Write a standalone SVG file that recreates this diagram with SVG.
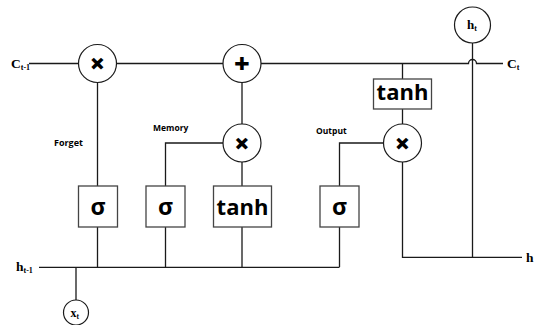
<svg xmlns="http://www.w3.org/2000/svg" width="534" height="325" viewBox="0 0 534 325">
  <style>
    .wire { fill: none; stroke: #1a1a1a; stroke-width: 1.3; }
    .op { fill: #fff; stroke: #1a1a1a; stroke-width: 1.2; }
    .gate { fill: #fff; stroke: #444; stroke-width: 1.3; }
    .sym { font-family: "Open Sans", "DejaVu Sans", sans-serif; font-weight: bold; fill: #000; text-anchor: middle; }
    .opsym { font-family: "Open Sans", "DejaVu Sans", sans-serif; font-weight: 800; fill: #000; text-anchor: middle; font-size: 27px; }
    .lbl { font-family: "Open Sans", "DejaVu Sans", sans-serif; font-weight: bold; fill: #000; }
    .var { font-family: "Liberation Serif", "Times New Roman", serif; font-weight: bold; fill: #000; }
  </style>
  <rect width="534" height="325" fill="#fff"/>

  <!-- connectors -->
  <g id="connectors">
    <!-- cell state line with a hop over the h_t wire -->
    <path class="wire" d="M29 63.5 H78.5 M116.5 63.5 H223 M261 63.5 H468.5 A4 4 0 0 1 476.5 63.5 H503"/>
    <!-- forget gate -->
    <path class="wire" d="M97.5 82.5 V186 M97.5 227 V267"/>
    <!-- input (memory) path -->
    <path class="wire" d="M242 82.5 V124 M242 162 V186 M242 227 V267"/>
    <path class="wire" d="M223 143 H165.5 V186 M165.5 227 V267"/>
    <!-- output gate -->
    <path class="wire" d="M383.5 143 H339.5 V186 M339.5 227 V267"/>
    <!-- h_{t-1} bus -->
    <path class="wire" d="M39 267.3 H339.5"/>
    <path class="wire" d="M76 267.3 V300"/>
    <!-- output tanh and hidden state -->
    <path class="wire" d="M402.5 63.5 V79 M402.5 109 V124 M402.5 162 V257.3 H522"/>
    <path class="wire" d="M472.5 43 V257.3"/>
  </g>

  <!-- pointwise operations -->
  <g id="mul-forget">
    <circle class="op" cx="97.5" cy="63.5" r="19"/>
    <text class="opsym" x="97.5" y="73">×</text>
  </g>
  <g id="add-cell">
    <circle class="op" cx="242" cy="63.5" r="19"/>
    <text class="opsym" x="242" y="73">+</text>
  </g>
  <g id="mul-input">
    <circle class="op" cx="242" cy="143" r="19"/>
    <text class="opsym" x="242" y="152.5">×</text>
  </g>
  <g id="mul-output">
    <circle class="op" cx="402.5" cy="143" r="19"/>
    <text class="opsym" x="402.5" y="152.5">×</text>
  </g>

  <!-- gate layers -->
  <g id="sigma-forget">
    <rect class="gate" x="78.5" y="186" width="39" height="41"/>
    <text class="sym" x="98" y="214.5" font-size="23">σ</text>
  </g>
  <g id="sigma-memory">
    <rect class="gate" x="146" y="186" width="39" height="41"/>
    <text class="sym" x="165.5" y="214.5" font-size="23">σ</text>
  </g>
  <g id="tanh-memory">
    <rect class="gate" x="213.5" y="186" width="58" height="41"/>
    <text class="sym" x="242.5" y="215" font-size="22">tanh</text>
  </g>
  <g id="sigma-output">
    <rect class="gate" x="320" y="186" width="39" height="41"/>
    <text class="sym" x="339.5" y="214.5" font-size="23">σ</text>
  </g>
  <g id="tanh-cell">
    <rect class="gate" x="373.5" y="79" width="58" height="30"/>
    <text class="sym" x="402.5" y="100" font-size="22">tanh</text>
  </g>

  <!-- gate labels -->
  <text class="lbl" x="54" y="146" font-size="9">Forget</text>
  <text class="lbl" x="153" y="131" font-size="8.5">Memory</text>
  <text class="lbl" x="316" y="134" font-size="8.5">Output</text>

  <!-- inputs and outputs -->
  <g id="c-prev">
    <text class="var" x="11" y="68" font-size="13.5">C<tspan font-size="8" dy="2">t-1</tspan></text>
  </g>
  <g id="c-next">
    <text class="var" x="507" y="68" font-size="13.5">C<tspan font-size="8" dy="2">t</tspan></text>
  </g>
  <g id="h-prev">
    <text class="var" x="16" y="271" font-size="13.5">h<tspan font-size="8" dy="2">t-1</tspan></text>
  </g>
  <g id="h-out">
    <text class="var" x="526" y="262" font-size="13.5">h</text>
  </g>
  <g id="h-top">
    <circle class="op" cx="472.5" cy="25" r="18"/>
    <text class="var" x="467" y="29" font-size="13">h<tspan font-size="8" dy="2">t</tspan></text>
  </g>
  <g id="x-in">
    <circle class="op" cx="76" cy="312.5" r="12.5"/>
    <text class="var" x="70.5" y="316.5" font-size="12">x<tspan font-size="7.5" dy="2">t</tspan></text>
  </g>
</svg>
